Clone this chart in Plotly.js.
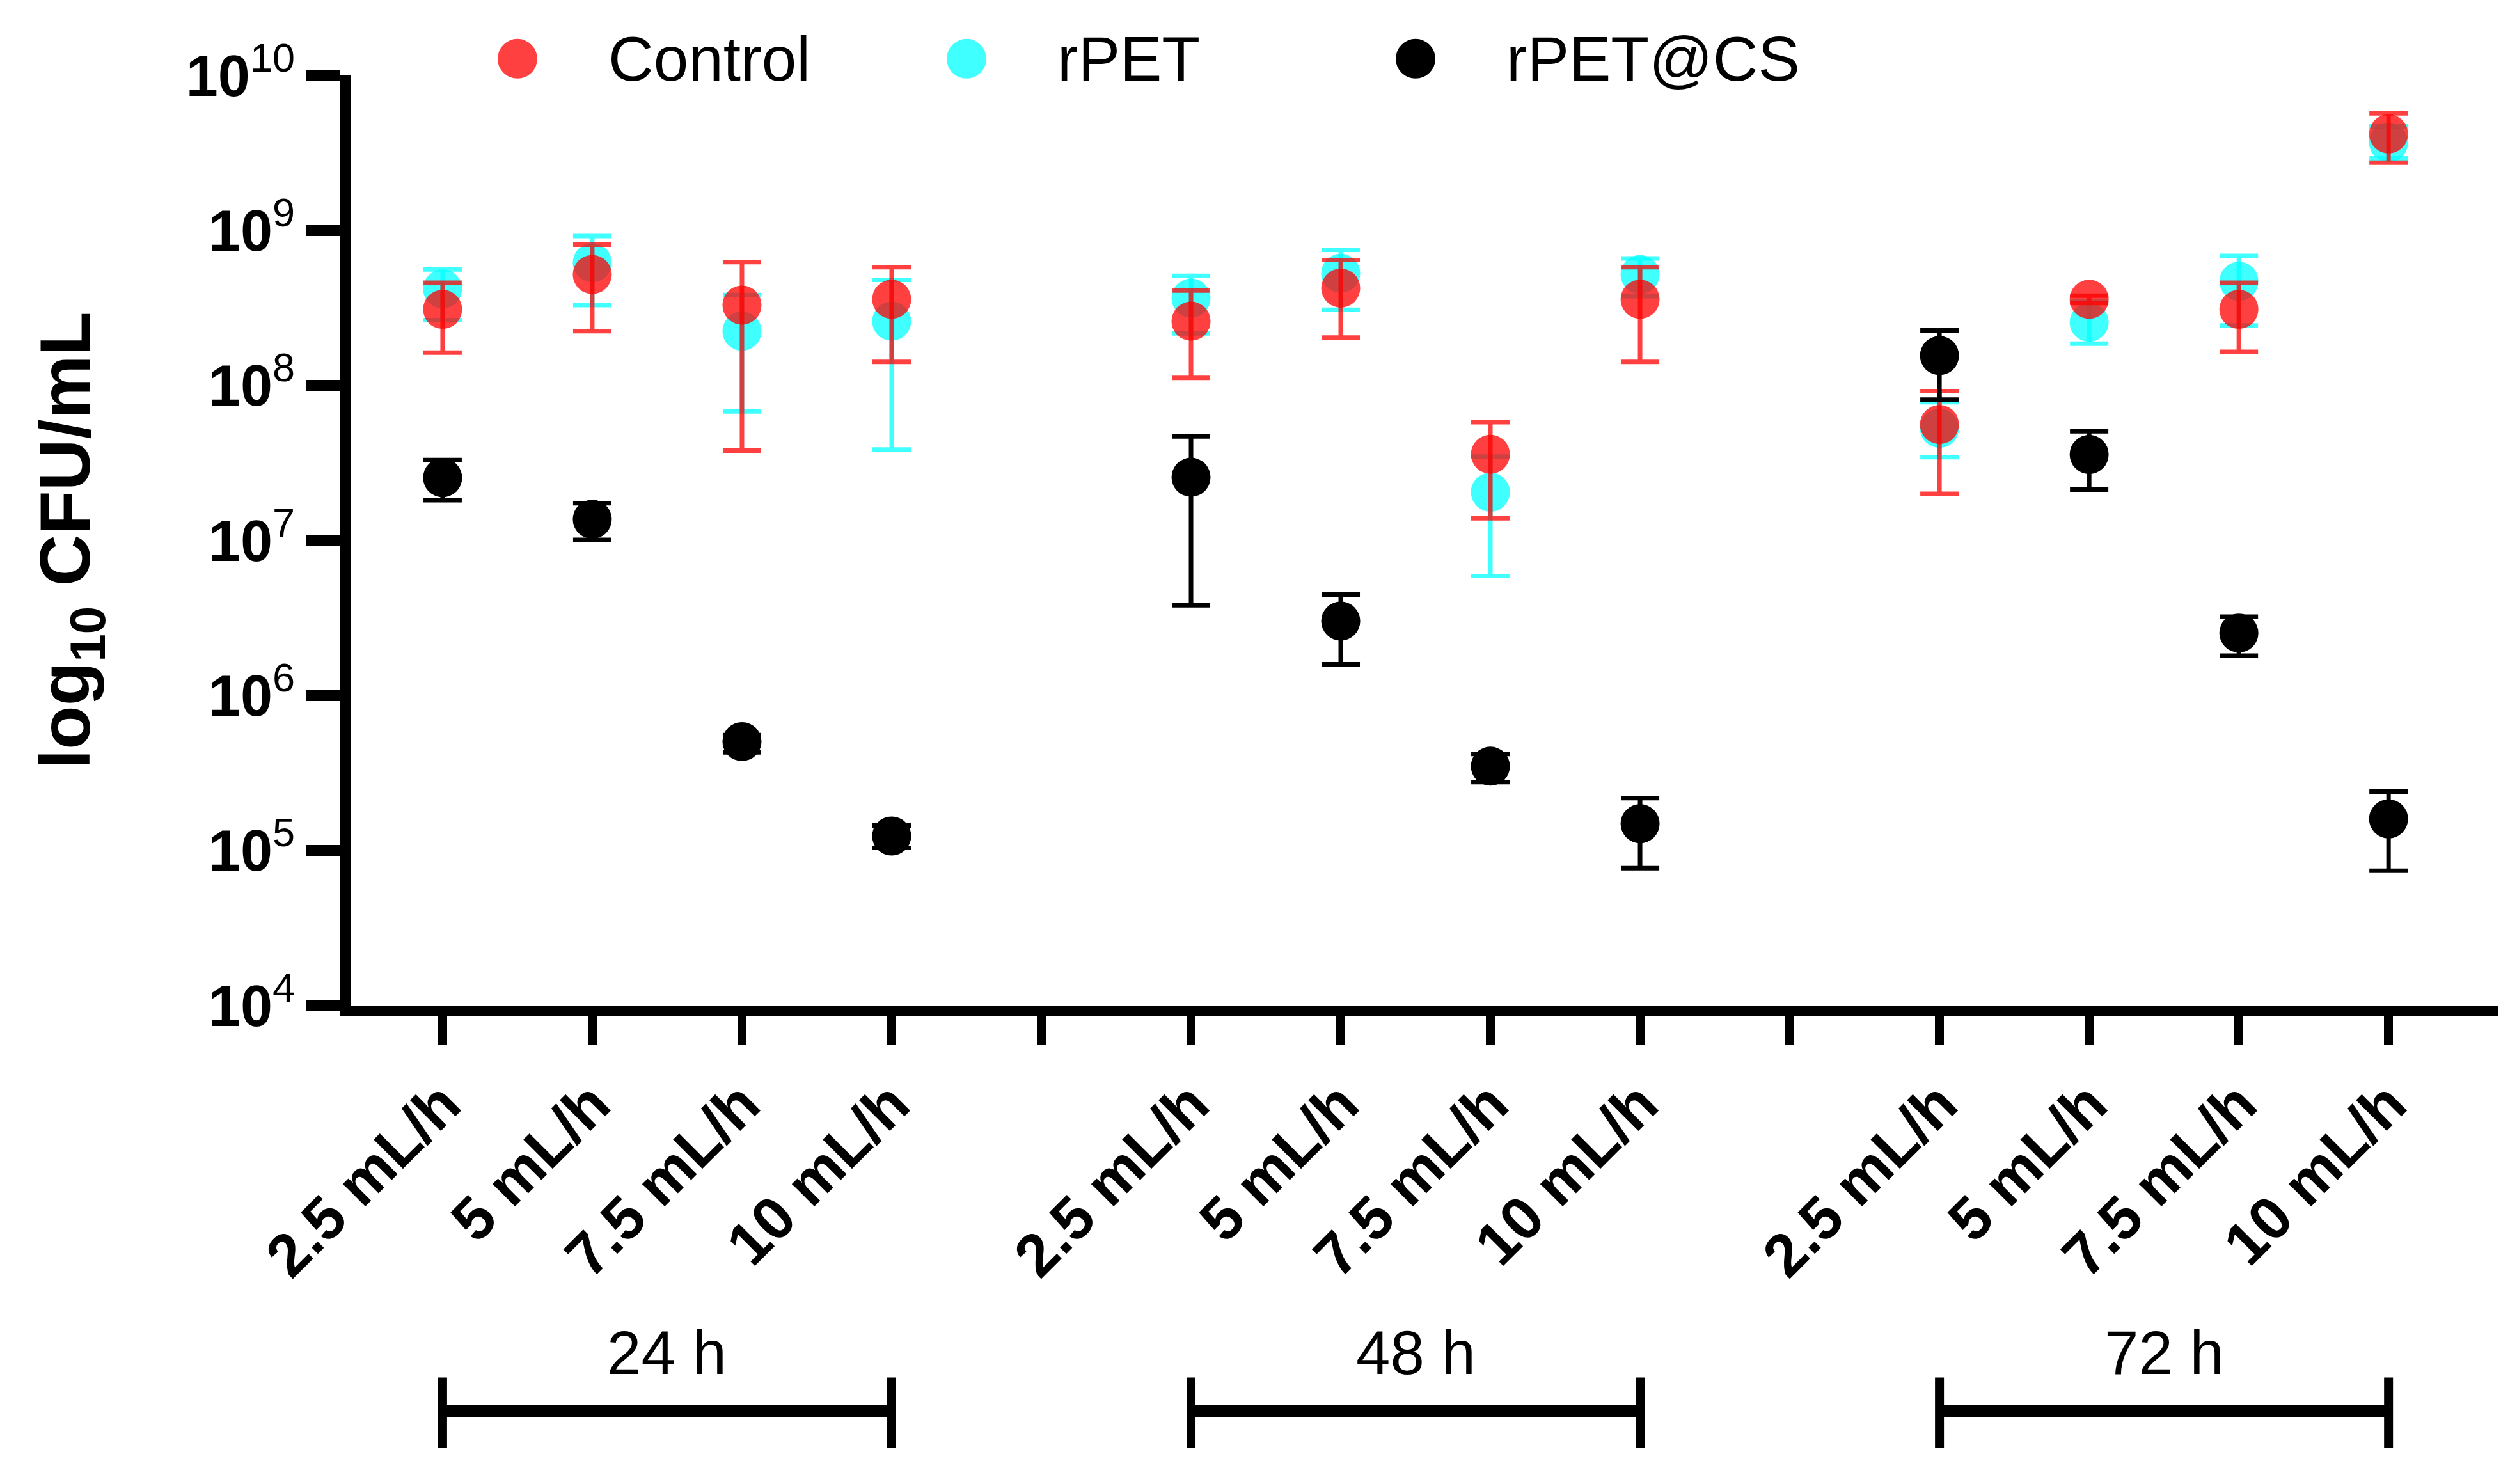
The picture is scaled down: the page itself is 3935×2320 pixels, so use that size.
<!DOCTYPE html>
<html><head><meta charset="utf-8">
<script src="https://cdn.plot.ly/plotly-3.0.1.min.js"></script>
<style>html,body{margin:0;padding:0;background:#fff}</style>
</head><body><div id="chart" style="width:3935px;height:2320px"></div>
<script>
const groups = ['24 h', '48 h', '72 h'];
const rates = ['2.5 mL/h', '5 mL/h', '7.5 mL/h', '10 mL/h'];
const yTickVals = [1e4, 1e5, 1e6, 1e7, 1e8, 1e9, 1e10];
const yTickText = ['<b>10</b><sup>4</sup>', '<b>10</b><sup>5</sup>', '<b>10</b><sup>6</sup>', '<b>10</b><sup>7</sup>', '<b>10</b><sup>8</sup>', '<b>10</b><sup>9</sup>', '<b>10</b><sup>10</sup>'];
const seriesNames = ['Control', 'rPET', 'rPET@CS'];

// order: 24h (2.5,5,7.5,10), 48h (...), 72h (...)
const controlMean = [3.1e8, 5.2e8, 3.3e8, 3.6e8, 2.6e8, 4.25e8, 3.6e7, 3.6e8, 5.6e7, 3.6e8, 3.1e8, 4.2e9];
const controlHigh = [4.6e8, 8.1e8, 6.25e8, 5.8e8, 4.1e8, 6.45e8, 5.8e7, 5.8e8, 9.2e7, 3.8e8, 4.6e8, 5.7e9];
const controlLow  = [1.63e8, 2.24e8, 3.8e7, 1.42e8, 1.12e8, 2.04e8, 1.39e7, 1.42e8, 2.0e7, 3.4e8, 1.65e8, 2.74e9];

const rpetMean = [4.2e8, 6.2e8, 2.24e8, 2.6e8, 3.66e8, 5.3e8, 2.05e7, 5.2e8, 5.3e7, 2.56e8, 4.7e8, 3.7e9];
const rpetHigh = [5.6e8, 9.2e8, 3.83e8, 4.8e8, 5.1e8, 7.5e8, 3.48e7, 6.6e8, 7.8e7, 3.5e8, 6.86e8, 4.7e9];
const rpetLow  = [2.64e8, 3.3e8, 6.8e7, 3.86e7, 2.17e8, 3.08e8, 5.9e6, 3.77e8, 3.45e7, 1.86e8, 2.44e8, 2.92e9];

const cstMean = [2.54e7, 1.37e7, 5.04e5, 1.24e5, 2.56e7, 3.02e6, 3.5e5, 1.49e5, 1.56e8, 3.59e7, 2.53e6, 1.6e5];
const cstHigh = [3.3e7, 1.74e7, 5.55e5, 1.45e5, 4.7e7, 4.48e6, 4.2e5, 2.18e5, 2.27e8, 5.07e7, 3.23e6, 2.4e5];
const cstLow  = [1.82e7, 1.01e7, 4.3e5, 1.04e5, 3.82e6, 1.59e6, 2.76e5, 7.7e4, 8.1e7, 2.13e7, 1.81e6, 7.4e4];

const colors = ['rgba(255,0,0,0.75)', 'rgba(0,255,255,0.75)', 'rgb(0,0,0)'];
const FONT = 'Liberation Sans, Arial, sans-serif';

const step = rates.length + 1;
const xPos = [];
groups.forEach((g, gi) => rates.forEach((r, ri) => xPos.push(gi * step + ri)));
const tickVals = [], tickText = [];
for (let i = 0; i < groups.length * step - 1; i++) {
  tickVals.push(i);
  const ri = i % step;
  tickText.push(ri < rates.length ? rates[ri] : '');
}

function mk(name, mean, hi, lo, color) {
  return {
    type: 'scatter', mode: 'markers', name: name, x: xPos, y: mean,
    cliponaxis: false, showlegend: false,
    marker: {size: 61, color: color, line: {width: 0}},
    error_y: {type: 'data', symmetric: false,
      array: hi.map((v, i) => v - mean[i]),
      arrayminus: lo.map((v, i) => mean[i] - v),
      color: color, thickness: 7, width: 30}
  };
}
const traces = [
  mk(seriesNames[1], rpetMean, rpetHigh, rpetLow, colors[1]),
  mk(seriesNames[0], controlMean, controlHigh, controlLow, colors[0]),
  mk(seriesNames[2], cstMean, cstHigh, cstLow, colors[2])
];

const shapes = [], annotations = [];
// legend
const legendOrder = [0, 1, 2];
legendOrder.forEach((si, k) => {
  const lx = 0.5 + k * 3;
  shapes.push({type: 'circle', xref: 'x', yref: 'paper', xsizemode: 'pixel', ysizemode: 'pixel',
    xanchor: lx, yanchor: 1.018, x0: -31, x1: 31, y0: -31, y1: 31,
    fillcolor: colors[si], line: {width: 0}});
  annotations.push({xref: 'x', yref: 'paper', x: lx + 0.6, y: 1.018, xanchor: 'left', yanchor: 'middle',
    text: seriesNames[si], showarrow: false, font: {family: FONT, size: 98, color: '#000'}});
});
// group brackets
groups.forEach((g, gi) => {
  const a = gi * step, b = gi * step + rates.length - 1;
  shapes.push({type: 'line', xref: 'x', yref: 'paper', x0: a, x1: b, y0: -0.436, y1: -0.436, line: {color: '#000', width: 18}});
  shapes.push({type: 'line', xref: 'x', yref: 'paper', x0: a, x1: a, y0: -0.400, y1: -0.476, line: {color: '#000', width: 14}});
  shapes.push({type: 'line', xref: 'x', yref: 'paper', x0: b, x1: b, y0: -0.400, y1: -0.476, line: {color: '#000', width: 14}});
  annotations.push({xref: 'x', yref: 'paper', x: (a + b) / 2, y: -0.373, xanchor: 'center', yanchor: 'middle',
    text: g, showarrow: false, font: {family: FONT, size: 96, color: '#000'}});
});

const layout = {
  width: 3935, height: 2320,
  margin: {l: 548, r: 30, t: 118, b: 748},
  paper_bgcolor: '#fff', plot_bgcolor: '#fff',
  showlegend: false,
  font: {family: FONT, color: '#000'},
  xaxis: {
    range: [-0.615, 13.73], tickmode: 'array', tickvals: tickVals, ticktext: tickText,
    tickangle: -45, showgrid: false, zeroline: false,
    showline: true, linecolor: '#000', linewidth: 17,
    ticks: 'outside', ticklen: 44, tickwidth: 14, tickcolor: '#000',
    tickfont: {family: FONT, size: 94, weight: 'bold', color: '#000'}
  },
  yaxis: {
    type: 'log', range: [4, 10], tickmode: 'array', tickvals: yTickVals, ticktext: yTickText,
    showgrid: false, zeroline: false,
    showline: true, linecolor: '#000', linewidth: 17,
    ticks: 'outside', ticklen: 52, tickwidth: 17, tickcolor: '#000',
    tickfont: {family: FONT, size: 90, color: '#000'},
    title: {text: 'log<sub>10</sub> CFU/mL', standoff: 120, font: {family: FONT, size: 112, weight: 'bold', color: '#000'}}
  },
  shapes: shapes, annotations: annotations
};
Plotly.newPlot('chart', traces, layout, {staticPlot: true, displayModeBar: false});
</script></body></html>
